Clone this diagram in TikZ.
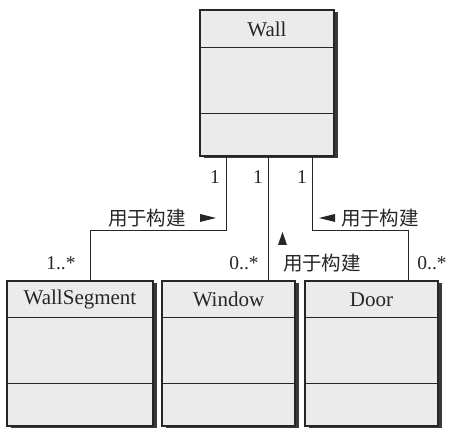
\documentclass[tikz,border=0pt]{standalone}
\usepackage{fontspec}
\setmainfont{Liberation Serif}
\newfontfamily\cjk{Noto Sans CJK SC}
\usetikzlibrary{shadows,calc}
\definecolor{boxfill}{HTML}{EBEBEB}
\definecolor{ink}{HTML}{262626}
\definecolor{shade}{HTML}{3A3A3A}
\begin{document}
\begin{tikzpicture}[x=1pt,y=1pt,
  umlbox/.style={draw=ink, line width=1.1pt, fill=boxfill, minimum height=145pt, inner sep=0pt,
    drop shadow={shadow xshift=4pt, shadow yshift=-2.5pt, fill=shade, opacity=1}},
  title/.style={font=\fontsize{21}{23}\selectfont, text=ink},
  lbl/.style={font=\fontsize{19.5}{21}\selectfont, text=ink, inner sep=0pt},
  clbl/.style={font=\cjk\fontsize{19.5}{21}\selectfont, text=ink, inner sep=0pt},
  conn/.style={draw=ink, line width=1pt},
  tri/.style={fill=ink}]
\useasboundingbox (0,0) rectangle (451,428);
% boxes
\node[umlbox, minimum width=134pt, minimum height=146pt] (wall) at (267,345) {};
\node[umlbox, minimum width=146pt] (ws) at (80,74.5) {};
\node[umlbox, minimum width=133pt] (win) at (228.5,74.5) {};
\node[umlbox, minimum width=133pt] (door) at (371.5,74.5) {};
% dividers
\foreach \b/\t/\m in {wall/38/104, ws/37/103, win/37/103, door/37/103}{
  \draw[ink, line width=1.1pt] ($(\b.north west)+(0,-\t)$) -- ($(\b.north east)+(0,-\t)$);
  \draw[ink, line width=1.1pt] ($(\b.north west)+(0,-\m)$) -- ($(\b.north east)+(0,-\m)$);
}
% titles
\node[title] (twall) at (267,399) {Wall};
\node[title] (tws) at (80,128.5) {WallSegment};
\node[title] (twin) at (228.5,128.5) {Window};
\node[title] (tdoor) at (371.5,128.5) {Door};
% connectors
\draw[conn] ([xshift=-41pt]wall.south) -- ++(0,-74) coordinate (k1) -| ([xshift=10pt]ws.north);
\draw[conn] ([xshift=1pt]wall.south) -- ([xshift=39.5pt]win.north);
\draw[conn] ([xshift=45pt]wall.south) -- ++(0,-74) coordinate (k3) -| ([xshift=36.5pt]door.north);
% multiplicities
\node[lbl] (m1) at (215,251) {1};
\node[lbl] (m2) at (258,251) {1};
\node[lbl] (m3) at (302,251) {1};
\node[lbl] (m4) at (61,165) {1..*};
\node[lbl] (m5) at (244,165) {0..*};
\node[lbl] (m6) at (432,165) {0..*};
% role labels
\node[clbl] (r1) at (147,210) {用于构建};
\node[clbl] (r2) at (380,210) {用于构建};
\node[clbl] (r3) at (322,165) {用于构建};
% direction arrowheads
\fill[tri] (200,214) -- (216,210) -- (200,206) -- cycle;
\fill[tri] (335,214) -- (319,210) -- (335,206) -- cycle;
\fill[tri] (278,183) -- (282.5,196) -- (287,183) -- cycle;
\end{tikzpicture}
\end{document}
